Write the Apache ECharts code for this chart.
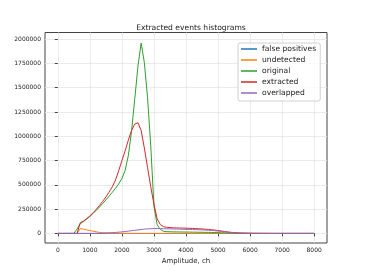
<!DOCTYPE html>
<html>
<head>
<meta charset="utf-8">
<script src="https://cdn.jsdelivr.net/npm/echarts@6/dist/echarts.min.js"></script>
<style>
  html, body { margin: 0; padding: 0; background: #fff; }
  #chart { width: 365px; height: 274px; }
</style>
</head>
<body>
<div id="chart"></div>
<script>
// bin edges, ch
var amplitude = [0,100,200,300,400,500,600,700,800,900,
    1000,1100,1200,1300,1400,1500,1600,1700,1800,1900,
    2000,2100,2200,2300,2400,2500,2600,2700,2800,2900,
    3000,3100,3200,3300,3400,3500,3600,3700,3800,3900,
    4000,4100,4200,4300,4400,4500,4600,4700,4800,4900,
    5000,5100,5200,5300,5400,5500,5600,5700,5800,5900,
    6000,6100,6200,6300,6400,6500,6600,6700,6800,6900,
    7000,7100,7200,7300,7400,7500,7600,7700,7800,7900,8000];

var falsePositives = [0,0,0,0,0,0,0,0,0,0,
    0,0,0,0,0,0,0,0,0,0,
    0,0,0,0,0,0,0,0,0,0,
    0,0,0,0,0,0,0,0,0,0,
    0,0,0,0,0,0,0,0,0,0,
    0,0,0,0,0,0,0,0,0,0,
    0,0,0,0,0,0,0,0,0,0,
    0,0,0,0,0,0,0,0,0,0,0];

var undetected = [0,0,0,0,0,0,0,50000,44000,37000,
    30000,23000,17000,11000,7000,4000,2500,1500,1000,600,
    400,300,200,100,0,0,0,0,0,0,
    0,0,0,0,0,0,0,0,0,0,
    0,0,0,0,0,0,0,0,0,0,
    0,0,0,0,0,0,0,0,0,0,
    0,0,0,0,0,0,0,0,0,0,
    0,0,0,0,0,0,0,0,0,0,0];

var original = [0,0,0,0,0,0,45000,100000,122000,148000,
    175000,205000,238000,272000,308000,345000,383000,423000,465000,510000,
    565000,650000,800000,1050000,1380000,1720000,1960000,1760000,1400000,900000,
    280000,90000,40000,22000,18000,17000,16000,16000,15000,15000,
    14000,14000,13000,13000,12000,12000,11000,11000,10000,9000,
    8000,7000,6000,5000,4000,3000,2000,1500,1000,800,
    600,500,400,300,300,200,200,100,100,100,
    0,0,0,0,0,0,0,0,0,0,0];

var extracted = [0,0,0,0,0,0,0,110000,128000,152000,
    180000,212000,248000,288000,330000,375000,425000,480000,550000,645000,
    750000,850000,960000,1060000,1125000,1140000,1060000,880000,680000,480000,
    300000,150000,90000,70000,63000,60000,58000,57000,56000,55000,
    54000,53000,52000,50000,48000,46000,44000,41000,38000,34000,
    30000,25000,20000,15000,11000,8000,6000,4000,3000,2000,
    1500,1000,800,600,400,300,200,100,100,0,
    0,0,0,0,0,0,0,0,0,0,0];

var overlapped = [0,0,0,0,0,0,0,0,0,0,
    0,500,1000,2000,3000,4500,6000,8000,10000,13000,
    16000,20000,24000,28000,32000,36000,40000,44000,47000,49000,
    50000,50000,50000,49000,48000,47000,46000,45000,44000,43000,
    42000,41000,40000,39000,38000,37000,35000,33000,31000,28000,
    25000,21000,17000,13000,10000,7000,5000,3500,2500,1800,
    1200,800,600,400,300,200,100,100,0,0,
    0,0,0,0,0,0,0,0,0,0,0];

var xTicks = [0,1000,2000,3000,4000,5000,6000,7000,8000];
var yTicks = [0,250000,500000,750000,1000000,1250000,1500000,1750000,2000000];

var names = ['false positives','undetected','original','extracted','overlapped'];
var colors = ['#1f77b4','#ff7f0e','#2ca02c','#d62728','#9467bd'];
var values = [falsePositives, undetected, original, extracted, overlapped];

var chart = echarts.init(document.getElementById('chart'));

var font = 'DejaVu Sans';
var seriesData = [];
for (var i = 0; i < names.length; i++) {
    var pts = [];
    for (var j = 0; j < amplitude.length; j++) {
        pts.push([amplitude[j], values[i][j]]);
    }
    seriesData.push({
        name: names[i],
        type: 'line',
        data: pts,
        symbol: 'none',
        animation: false,
        lineStyle: { width: 1, color: colors[i] },
        itemStyle: { color: colors[i] },
        z: 2 + i
    });
}

var option = {
    backgroundColor: '#fff',
    animation: false,
    title: {
        text: 'Extracted events histograms',
        left: 186,
        textAlign: 'center',
        top: 19,
        textStyle: { fontFamily: font, fontSize: 7.6, fontWeight: 'normal', color: '#222' }
    },
    legend: {
        orient: 'vertical',
        left: 238,
        top: 43,
        data: names,
        icon: 'rect',
        itemWidth: 16,
        itemHeight: 1.5,
        itemGap: 1,
        padding: [1, 4, 3, 3],
        borderColor: '#d0d0d0',
        borderWidth: 1,
        borderRadius: 2,
        backgroundColor: 'rgba(255,255,255,0.8)',
        textStyle: { fontFamily: font, fontSize: 7.6, lineHeight: 10, color: '#222' }
    },
    grid: {
        left: 45,
        right: 38,
        top: 32.5,
        bottom: 31,
        show: true,
        borderColor: '#444',
        borderWidth: 1,
        backgroundColor: 'transparent'
    },
    xAxis: {
        type: 'value',
        min: -400,
        max: 8400,
        name: 'Amplitude, ch',
        nameLocation: 'middle',
        nameGap: 4,
        nameTextStyle: { fontFamily: font, fontSize: 7, color: '#222' },
        axisLine: { show: false },
        axisTick: { show: true, inside: false, length: 3, customValues: xTicks, lineStyle: { color: '#444' } },
        axisLabel: { customValues: xTicks, margin: 4, fontFamily: font, fontSize: 6, color: '#222',
            formatter: function (v) { return String(v); } },
        splitLine: { show: true, lineStyle: { color: '#e6e6e6', width: 0.8 } }
    },
    yAxis: {
        type: 'value',
        min: -98500,
        max: 2068500,
        axisLine: { show: false },
        axisTick: { show: true, inside: false, length: 3, customValues: yTicks, lineStyle: { color: '#444' } },
        axisLabel: { customValues: yTicks, margin: 4, fontFamily: font, fontSize: 6, color: '#222',
            formatter: function (v) { return String(v); } },
        splitLine: { show: true, lineStyle: { color: '#e6e6e6', width: 0.8 } }
    },
    series: seriesData
};

chart.setOption(option);
</script>
</body>
</html>
